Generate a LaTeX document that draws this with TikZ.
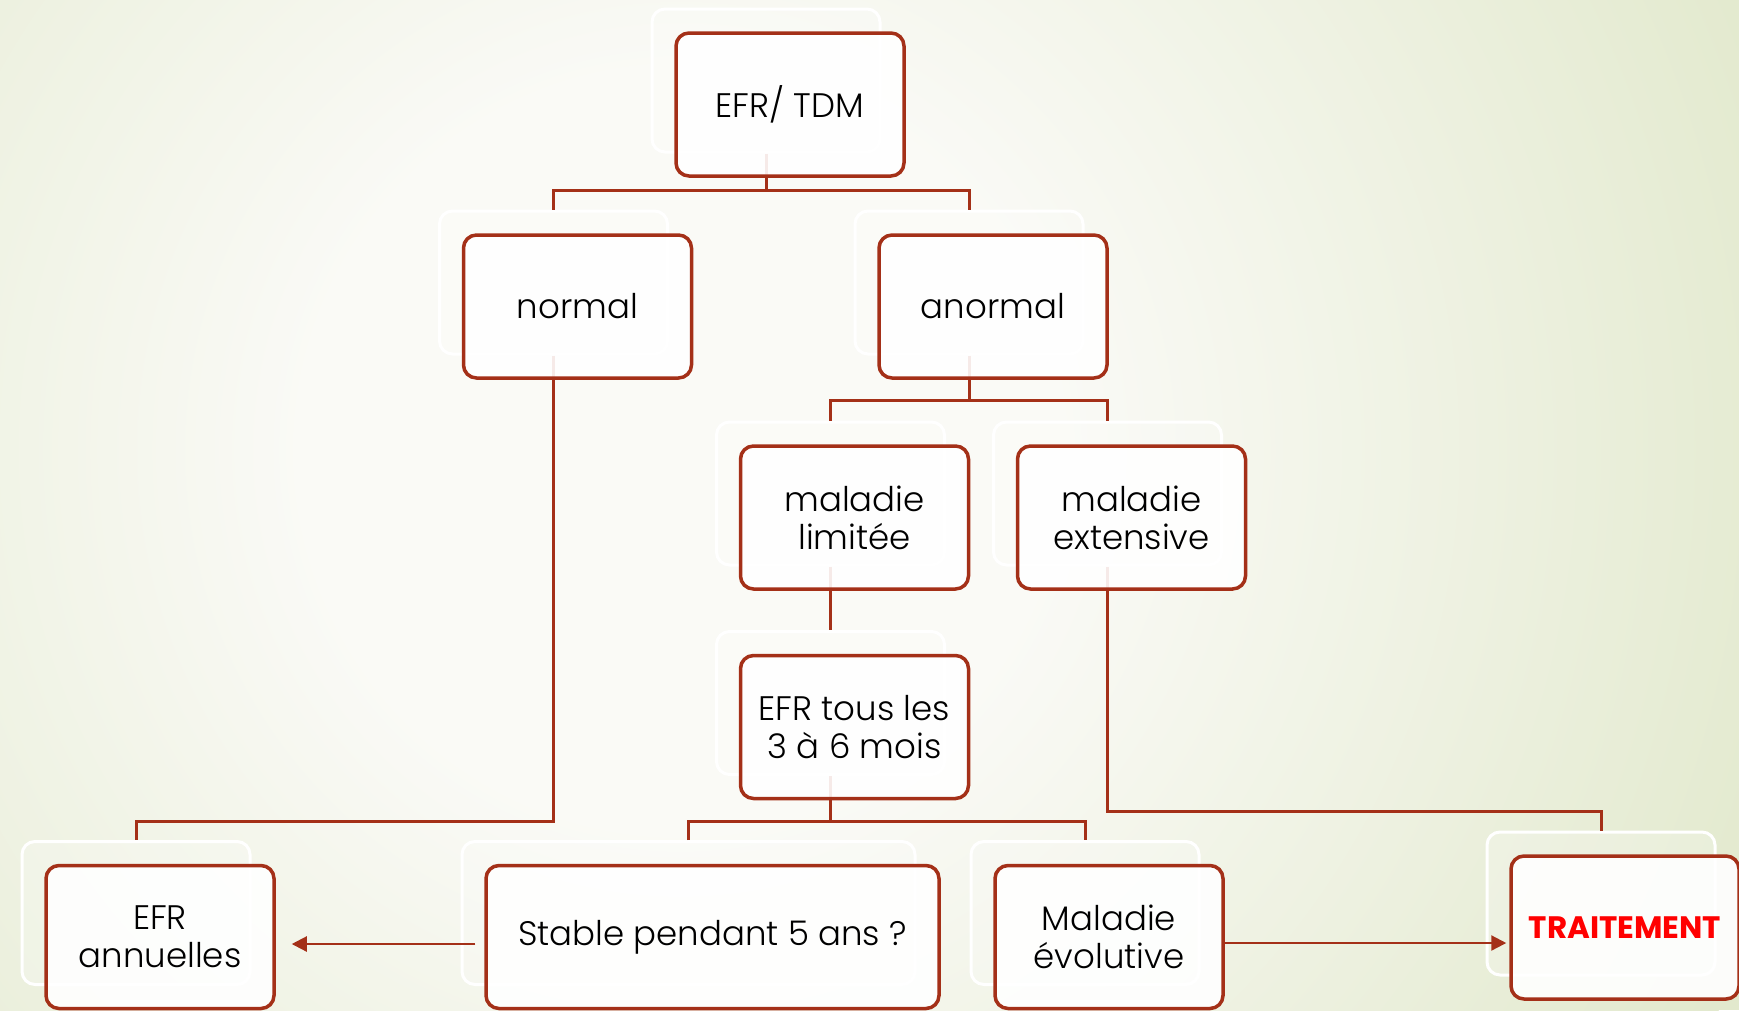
\documentclass[tikz,border=0pt]{standalone}
\usepackage{fontspec}
\setmainfont{Poppins Light}[BoldFont=Poppins Bold]
\usetikzlibrary{arrows.meta,calc}

\definecolor{brick}{RGB}{164,48,24}
\definecolor{bgin}{RGB}{250,250,246}
\definecolor{bgout}{RGB}{226,233,205}
\definecolor{alarm}{RGB}{255,0,0}

% radial paper tint: the path's bounding box spans +-25bp of the shading
\pgfdeclareradialshading{paper}{\pgfpoint{0bp}{0bp}}{%
  color(0bp)=(bgin); color(8bp)=(bgin); color(25bp)=(bgout); color(50bp)=(bgout)}

\tikzset{
  backcard/.style={draw=white, line width=3pt, rounded corners=13pt,
    fill=white, fill opacity=0.22, minimum width=228pt, minimum height=143pt,
    inner sep=0pt},
  frontcard/.style={draw=brick, line width=3.5pt, rounded corners=13pt,
    fill=white, fill opacity=0.9, text opacity=1, text=black,
    minimum width=228pt, minimum height=143pt, inner sep=0pt, align=center,
    font=\fontsize{34}{38}\selectfont},
  link/.style={draw=brick, line width=3pt},
  flow/.style={draw=brick, line width=2.2pt, -{Triangle[length=15pt,width=15pt]}},
}

% a card: back outline offset up-left, front box drawn later
\newcommand\backcard[4]{\node[backcard, minimum width=#4] (g#1) at (#2-24,#3-24) {};}
\newcommand\frontcard[5]{\node[frontcard, minimum width=#4] (#1) at (#2,#3) {#5};}

\begin{document}
\begin{tikzpicture}[x=1pt, y=-1pt]
  % page and background
  \useasboundingbox (0,0) rectangle (1739,1010);
  \begin{scope}
    \clip (0,0) rectangle (1739,1010);
    \fill[bgout] (0,0) rectangle (1739,1010);
    \shade[shading=paper] (680,450) circle[radius=1180];
  \end{scope}

  % back outlines
  \backcard{top}{790}{104.5}{228pt}
  \backcard{normal}{577.5}{306.5}{228pt}
  \backcard{anormal}{993}{306.5}{228pt}
  \backcard{limitee}{854.5}{517.5}{228pt}
  \backcard{extensive}{1131.5}{517.5}{228pt}
  \backcard{tous}{854.5}{727}{228pt}
  \backcard{annuelles}{160}{937}{228pt}
  \backcard{stable}{712.5}{937}{453pt}
  \backcard{evolutive}{1109}{937}{228pt}
  \backcard{traitement}{1625}{927.5}{228pt}

  % bus levels
  \coordinate (busTop) at (0,190);
  \coordinate (busAnormal) at (0,400);
  \coordinate (busExt) at (0,811);
  \coordinate (busLow) at (0,821);

  % tree connectors
  \draw[link] (gtop.south) -- (gtop.south |- busTop);
  \draw[link] (gnormal.north) |- (gtop.south |- busTop) -| (ganormal.north);
  \draw[link] (ganormal.south) -- (ganormal.south |- busAnormal);
  \draw[link] (glimitee.north) |- (ganormal.south |- busAnormal) -| (gextensive.north);
  \draw[link] (glimitee.south) -- (gtous.north);
  \draw[link] (gtous.south) -- (gtous.south |- busLow);
  \draw[link] (gstable.north) |- (gtous.south |- busLow) -| (gevolutive.north);
  \draw[link] (gnormal.south) -- (gnormal.south |- busLow) -| (gannuelles.north);
  \draw[link] (gextensive.south) -- (gextensive.south |- busExt) -| (gtraitement.north);

  % front boxes
  \frontcard{top}{790}{104.5}{228pt}{EFR/ TDM}
  \frontcard{normal}{577.5}{306.5}{228pt}{normal}
  \frontcard{anormal}{993}{306.5}{228pt}{anormal}
  \frontcard{limitee}{854.5}{517.5}{228pt}{maladie\\limitée}
  \frontcard{extensive}{1131.5}{517.5}{228pt}{maladie\\extensive}
  \frontcard{tous}{854.5}{727}{228pt}{EFR tous les\\3 à 6 mois}
  \frontcard{annuelles}{160}{937}{228pt}{EFR\\annuelles}
  \frontcard{stable}{712.5}{937}{453pt}{\raisebox{-4pt}{Stable pendant 5 ans ?}}
  \frontcard{evolutive}{1109}{937}{228pt}{Maladie\\évolutive}
  \frontcard{traitement}{1625}{927.5}{228pt}{\textcolor{alarm}{\fontsize{31}{36}\selectfont\bfseries TRAITEMENT}}

  % horizontal outcome arrows
  \coordinate (stabOut) at ([xshift=-9pt,yshift=-7pt]stable.west);
  \draw[flow, shorten >=16pt] (stabOut) -- (stabOut -| annuelles.east);
  \coordinate (evoOut) at ([yshift=-6pt]evolutive.east);
  \draw[flow, shorten >=3pt] (evoOut) -- (evoOut -| traitement.west);
\end{tikzpicture}
\end{document}
